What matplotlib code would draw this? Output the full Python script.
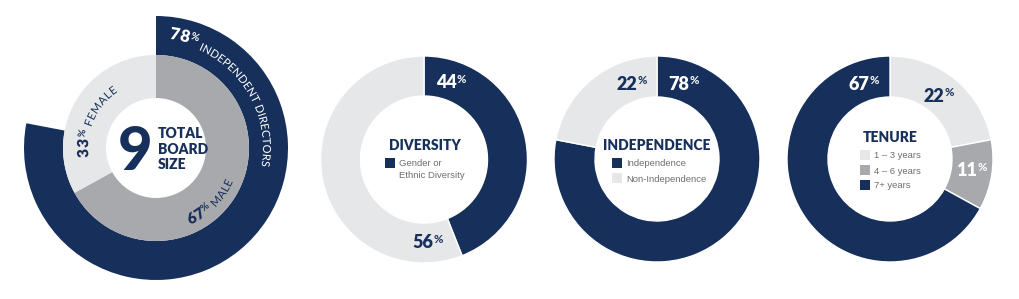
import numpy as np
import matplotlib
matplotlib.use('Agg')
import matplotlib.pyplot as plt
import matplotlib.patheffects as pe
from matplotlib import font_manager
from matplotlib.patches import Rectangle

NAVY = '#17305b'
GRAY = '#a7a9ac'
LIGHT = '#e6e7e8'
LEG_TXT = '#6d6e71'
FONT = 'Lato'
LEG_FONT = 'Liberation Sans'
NUM_W = 'heavy'

# data
board_size = 9
independent_pct = [78, 22]
gender_labels = ['MALE', 'FEMALE']
gender_pct = [67, 33]
diversity_labels = ['Gender or\nEthnic Diversity', 'Other']
diversity_pct = [44, 56]
independence_labels = ['Independence', 'Non-Independence']
independence_pct = [78, 22]
tenure_labels = ['1 \u2013 3 years', '4 \u2013 6 years', '7+ years']
tenure_pct = [22, 11, 67]

W, H = 1020, 299
fig = plt.figure(figsize=(W / 100, H / 100), dpi=100)
ax = fig.add_axes([0, 0, 1, 1])
PX = 100 / 72  # pixels per point


def Y(y):
    return H - y


def advance(ch, size, weight):
    fp = font_manager.FontProperties(family=FONT, size=size, weight=weight)
    font = font_manager.get_font(font_manager.findfont(fp))
    font.set_size(size, 72)
    g = font.load_char(ord(ch))
    return g.linearHoriAdvance / 65536 * PX


def arc_text(cx, cy, r, start, parts, outward=True, track=0.0):
    # letters one by one along a circle; drawn as paths so they are not
    # snapped to whole pixels
    s = 0.0
    sign = 1 if outward else -1
    for text, size, weight, color, dr in parts:
        for ch in text:
            adv = advance(ch, size, weight)
            th = np.radians(start) + sign * (s + adv / 2) / r
            rr = r + (dr if outward else -dr)
            x = cx + rr * np.sin(th)
            y = cy + rr * np.cos(th)
            rot = -np.degrees(th) if outward else 180 - np.degrees(th)
            if ch != ' ':
                ax.text(x, y, ch, rotation=rot, rotation_mode='anchor',
                        ha='center', va='baseline', fontsize=size,
                        fontweight=weight, family=FONT, color=color,
                        path_effects=[pe.Normal()])
            s += adv + track


def pct(x, y, num, color, size=13):
    n = str(num)
    w = sum(advance(c, size, NUM_W) for c in n)
    base = Y(y + size / 2)
    ax.text(x, base, n, ha='center', va='baseline', fontsize=size,
            fontweight=NUM_W, family=FONT, color=color)
    ax.text(x + w / 2 + 0.5, base + size * 0.4, '%', ha='left', va='baseline',
            fontsize=size * 0.64, fontweight='bold', family=FONT, color=color)


def legend(x, y, labels, colors, step=15):
    for i, (lab, col) in enumerate(zip(labels, colors)):
        yy = y + i * step
        ax.add_patch(Rectangle((x, Y(yy + 10)), 10, 10, color=col, lw=0))
        for j, line in enumerate(lab.split('\n')):
            ax.text(x + 14, Y(yy + 8.5 + j * 11.5), line, ha='left', va='baseline',
                    fontsize=6.8, family=LEG_FONT, color=LEG_TXT)


def title(x, y, s):
    ax.text(x, Y(y), s, ha='center', va='baseline', fontsize=10,
            fontweight='heavy', family=FONT, color=NAVY)


# ---- board composition (nested rings)
c1 = (156, Y(148))
ax.pie(independent_pct, colors=[NAVY, 'none'], radius=132, center=c1,
       startangle=90, counterclock=False, wedgeprops=dict(width=39, linewidth=0))
ax.pie(gender_pct, colors=[GRAY, LIGHT], radius=93, center=c1,
       startangle=90, counterclock=False, wedgeprops=dict(width=43, linewidth=0))

arc_text(c1[0], c1[1], 110, 7,
         [(str(independent_pct[0]), 12, NUM_W, 'white', 0),
          ('%', 7.5, 'bold', 'white', 4.5),
          (' INDEPENDENT DIRECTORS', 8, 'normal', 'white', -3)], outward=True, track=0.25)
arc_text(c1[0], c1[1], 68, -98,
         [(str(gender_pct[1]), 11, NUM_W, NAVY, 0),
          ('%', 7, 'bold', NAVY, 4.5),
          (' ' + gender_labels[1], 8, 'normal', NAVY, 0)], outward=True, track=0.5)
arc_text(c1[0], c1[1], 84, 156,
         [(str(gender_pct[0]), 11, NUM_W, NAVY, 0),
          ('%', 7, 'bold', NAVY, 4.5),
          (' ' + gender_labels[0], 8, 'normal', NAVY, 0)], outward=False, track=0.5)

ax.text(135, Y(170), str(board_size), ha='center', va='baseline', fontsize=43,
        fontweight='black', family=FONT, color=NAVY)
for i, w in enumerate(['TOTAL', 'BOARD', 'SIZE']):
    ax.text(158, Y(138 + i * 15.5), w, ha='left', va='baseline', fontsize=10,
            fontweight='heavy', family=FONT, color=NAVY)

# ---- diversity
ax.pie(diversity_pct, colors=[NAVY, LIGHT], radius=103.5, center=(424, Y(159.5)),
       startangle=90, counterclock=False,
       wedgeprops=dict(width=40, edgecolor='white', linewidth=1))
pct(446, 82, diversity_pct[0], 'white')
pct(423, 242, diversity_pct[1], NAVY)
title(425, 150, 'DIVERSITY')
legend(385, 158, diversity_labels[:1], [NAVY])

# ---- independence
ax.pie(independence_pct, colors=[NAVY, LIGHT], radius=103, center=(657, Y(159)),
       startangle=90, counterclock=False,
       wedgeprops=dict(width=41, edgecolor='white', linewidth=1))
pct(679, 83, independence_pct[0], 'white')
pct(627, 83, independence_pct[1], NAVY)
title(657, 150, 'INDEPENDENCE')
legend(612, 158, independence_labels, [NAVY, LIGHT])

# ---- tenure
ax.pie(tenure_pct, colors=[LIGHT, GRAY, NAVY], radius=103, center=(890, Y(159)),
       startangle=90, counterclock=False,
       wedgeprops=dict(width=41, edgecolor='white', linewidth=1))
pct(934, 95, tenure_pct[0], NAVY)
pct(967, 170, tenure_pct[1], 'white')
pct(859, 83, tenure_pct[2], 'white')
title(890, 142, 'TENURE')
legend(860, 150, tenure_labels, [LIGHT, GRAY, NAVY])

ax.set_xlim(0, W)
ax.set_ylim(0, H)
ax.set_aspect('equal')
ax.axis('off')
fig.savefig('out.png', dpi=100, facecolor='white')
